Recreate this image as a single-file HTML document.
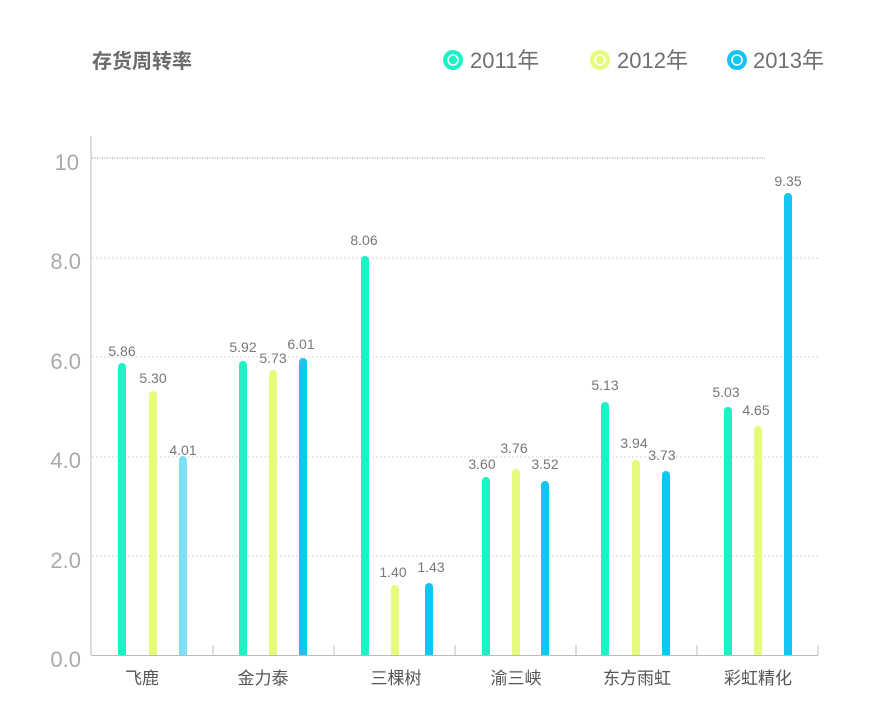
<!DOCTYPE html>
<html><head><meta charset="utf-8"><style>
html,body{margin:0;padding:0;background:#fff;}
svg{display:block;font-family:"Liberation Sans","Noto Sans CJK SC",sans-serif;}
</style></head><body>
<svg width="880" height="713" viewBox="0 0 880 713" xmlns="http://www.w3.org/2000/svg">
<defs><clipPath id="c"><rect x="0" y="0" width="880" height="655"/></clipPath></defs>
<text x="92" y="68" font-size="20" font-weight="bold" fill="#6b6b6b">存货周转率</text>
<circle cx="453" cy="60" r="10" fill="#1cf2c6"/><circle cx="453" cy="60" r="5" fill="none" stroke="#fff" stroke-width="1.5"/>
<text x="470" y="68" font-size="22" fill="#707070">2011年</text>
<circle cx="600" cy="60" r="10" fill="#e4fb7c"/><circle cx="600" cy="60" r="5" fill="none" stroke="#fff" stroke-width="1.5"/>
<text x="617" y="68" font-size="22" fill="#707070">2012年</text>
<circle cx="737" cy="60" r="10" fill="#12c6f3"/><circle cx="737" cy="60" r="5" fill="none" stroke="#fff" stroke-width="1.5"/>
<text x="753" y="68" font-size="22" fill="#707070">2013年</text>
<g stroke="#ccc" stroke-width="1" stroke-dasharray="1.5,2.5">
<line x1="92" y1="556" x2="818" y2="556"/>
<line x1="92" y1="457" x2="818" y2="457"/>
<line x1="92" y1="357" x2="818" y2="357"/>
<line x1="92" y1="258" x2="818" y2="258"/>
</g>
<line x1="92" y1="158" x2="765" y2="158" stroke="#888" stroke-width="1" stroke-dasharray="1,1.5"/>
<line x1="91" y1="136" x2="91" y2="655" stroke="#bbb" stroke-width="1"/>
<line x1="91" y1="655.5" x2="818" y2="655.5" stroke="#bbb" stroke-width="1"/>
<g stroke="#bbb" stroke-width="1">
<line x1="213" y1="645" x2="213" y2="655"/><line x1="334" y1="645" x2="334" y2="655"/>
<line x1="455" y1="645" x2="455" y2="655"/><line x1="576" y1="645" x2="576" y2="655"/>
<line x1="697" y1="645" x2="697" y2="655"/><line x1="818" y1="645" x2="818" y2="655"/>
</g>
<g font-size="22" fill="#aaa" text-anchor="end">
<text x="81" y="667">0.0</text><text x="81" y="568">2.0</text><text x="81" y="468">4.0</text>
<text x="81" y="369">6.0</text><text x="81" y="269">8.0</text><text x="79" y="170">10</text>
</g>
<g stroke-width="8" stroke-linecap="round" clip-path="url(#c)">
<line x1="122" y1="665" x2="122" y2="367" stroke="#1cf2c6"/>
<line x1="153" y1="665" x2="153" y2="395" stroke="#e4fb7c"/>
<line x1="183" y1="665" x2="183" y2="460" stroke="#7fdff6"/>
<line x1="243" y1="665" x2="243" y2="365" stroke="#1cf2c6"/>
<line x1="273" y1="665" x2="273" y2="374" stroke="#e4fb7c"/>
<line x1="303" y1="665" x2="303" y2="362" stroke="#12c6f3"/>
<line x1="365" y1="665" x2="365" y2="260" stroke="#1cf2c6"/>
<line x1="395" y1="665" x2="395" y2="589" stroke="#e4fb7c"/>
<line x1="429" y1="665" x2="429" y2="587" stroke="#12c6f3"/>
<line x1="486" y1="665" x2="486" y2="481" stroke="#1cf2c6"/>
<line x1="516" y1="665" x2="516" y2="473" stroke="#e4fb7c"/>
<line x1="545" y1="665" x2="545" y2="485" stroke="#12c6f3"/>
<line x1="605" y1="665" x2="605" y2="406" stroke="#1cf2c6"/>
<line x1="636" y1="665" x2="636" y2="464" stroke="#e4fb7c"/>
<line x1="666" y1="665" x2="666" y2="475" stroke="#12c6f3"/>
<line x1="728" y1="665" x2="728" y2="411" stroke="#1cf2c6"/>
<line x1="758" y1="665" x2="758" y2="430" stroke="#e4fb7c"/>
<line x1="788" y1="665" x2="788" y2="197" stroke="#12c6f3"/>
</g>
<g font-size="14" fill="#777" text-anchor="middle">
<text x="122" y="356">5.86</text><text x="153" y="383">5.30</text><text x="183" y="455">4.01</text>
<text x="243" y="352">5.92</text><text x="273" y="363">5.73</text><text x="301" y="349">6.01</text>
<text x="364" y="245">8.06</text><text x="393" y="577">1.40</text><text x="431" y="572">1.43</text>
<text x="482" y="469">3.60</text><text x="514" y="453">3.76</text><text x="545" y="469">3.52</text>
<text x="605" y="390">5.13</text><text x="634" y="448">3.94</text><text x="662" y="460">3.73</text>
<text x="726" y="397">5.03</text><text x="756" y="415">4.65</text><text x="788" y="186">9.35</text>
</g>
<g font-size="17" fill="#555" text-anchor="middle">
<text x="142" y="684">飞鹿</text><text x="263" y="684">金力泰</text><text x="396" y="684">三棵树</text>
<text x="516" y="684">渝三峡</text><text x="637" y="684">东方雨虹</text><text x="758" y="684">彩虹精化</text>
</g>
</svg>
</body></html>
